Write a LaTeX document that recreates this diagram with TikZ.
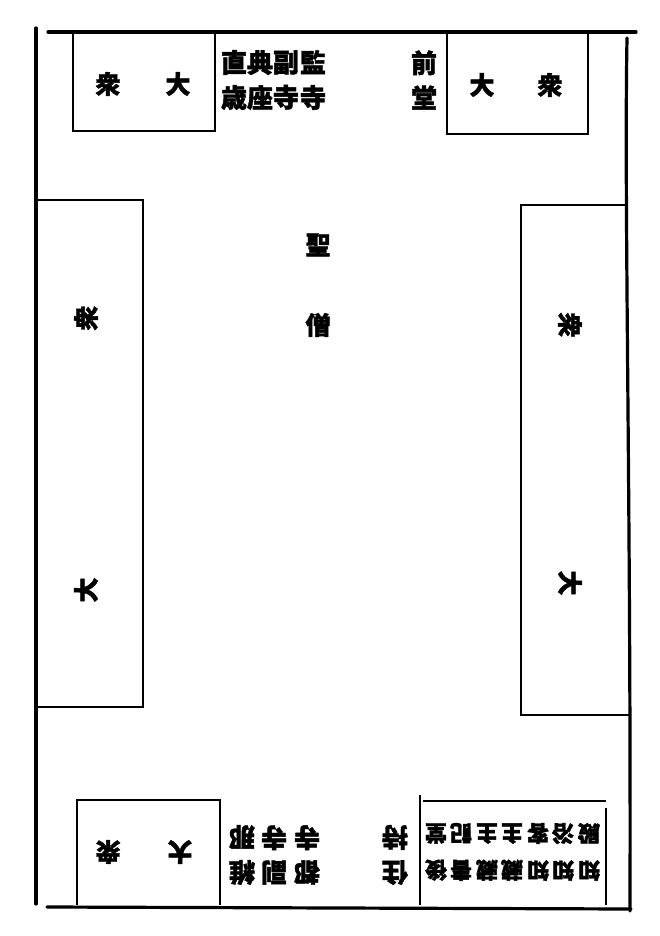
\documentclass[tikz,border=0pt]{standalone}
\usepackage{fontspec}
\newfontfamily\cjk[BoldFeatures={FakeBold=1.6}]{Noto Sans CJK JP}
\tikzset{
  wall/.style={line width=3.2pt, line cap=round},
  seat/.style={line width=1.4pt},
  big/.style={font=\cjk\bfseries\fontsize{25pt}{27pt}\selectfont, inner sep=0pt},
  lab/.style={font=\cjk\bfseries\fontsize{26pt}{35pt}\selectfont, align=center, inner sep=0pt},
  sml/.style={font=\cjk\bfseries\fontsize{22pt}{37pt}\selectfont, align=center, inner sep=0pt},
  ctr/.style={font=\cjk\bfseries\fontsize{25pt}{27pt}\selectfont, inner sep=0pt}
}
\begin{document}
\begin{tikzpicture}[x=1pt,y=-1pt]
\useasboundingbox (0,0) rectangle (660,936);
% outer walls
\draw[wall] (36,28) -- (36,904);
\draw[wall] (48,32) -- (636,32);
\draw[wall] (627,38) .. controls (624,200) and (631,500) .. (630,911);
\draw[wall] (47,907) -- (631,909);
% top seats
\draw[seat] (73,33) -- (73,131) -- (215,131) -- (215,33);
\draw[seat] (447,33) -- (447,134) -- (588,134) -- (588,33);
% side long seats
\draw[seat] (37,200) -- (143,200) -- (143,707) -- (37,707);
\draw[seat] (628,205) -- (521,205) -- (521,715) -- (630,715);
% bottom seats
\draw[seat] (77,905) -- (77,800) -- (220,800) -- (220,905);
\draw[seat] (420,795) -- (420,905);
\draw[seat] (423,801) -- (606,801);
\draw[seat] (606,808) -- (606,905);
% top texts
\node[big] (tl1) at (108,84) {衆};
\node[big] (tl2) at (178,84) {大};
\node[big] (tr1) at (482,85) {大};
\node[big] (tr2) at (550,85) {衆};
\node[lab] (zhisui) at (234,80) {直\\歳};
\node[lab] (tenzo) at (260,80) {典\\座};
\node[lab] (fusu1) at (286,80) {副\\寺};
\node[lab] (kansu) at (313,80) {監\\寺};
\node[lab] (zendo) at (424,80) {前\\堂};
% center
\node[ctr] (sei) at (318,245) {聖};
\node[ctr] (so) at (318,325) {僧};
% sides
\node[big, rotate=90] (l1) at (86,318) {衆};
\node[big, rotate=90] (l2) at (86,590) {大};
\node[big, rotate=-90] (r1) at (570,325) {衆};
\node[big, rotate=-90] (r2) at (570,583) {大};
% bottom texts (upside down)
\node[big, rotate=180] (bl1) at (108,852) {衆};
\node[big, rotate=180] (bl2) at (180,852) {大};
\node[lab, rotate=180] (ina) at (242,855) {維\\那};
\node[lab, rotate=180] (fusu2) at (274,855) {副\\寺};
\node[lab, rotate=180] (tsusu) at (307,855) {都\\寺};
\node[lab, rotate=180] (jushi) at (395,855) {住\\持};
\node[sml, rotate=180] (c1) at (436,852) {後\\堂};
\node[sml, rotate=180] (c2) at (461,852) {書\\記};
\node[sml, rotate=180] (c3) at (487,852) {藏\\主};
\node[sml, rotate=180] (c4) at (512,852) {藏\\主};
\node[sml, rotate=180] (c5) at (538,852) {知\\客};
\node[sml, rotate=180] (c6) at (563,852) {知\\浴};
\node[sml, rotate=180] (c7) at (589,852) {知\\殿};
\end{tikzpicture}
\end{document}
